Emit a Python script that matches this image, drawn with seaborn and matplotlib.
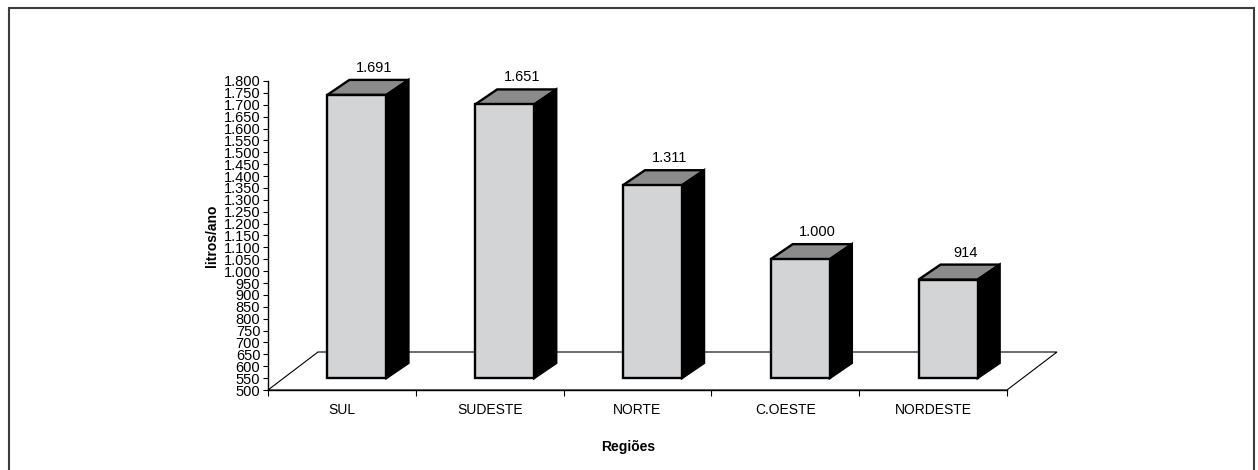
import matplotlib
matplotlib.use("Agg")
import numpy as np
import pandas as pd
import matplotlib.pyplot as plt
import seaborn as sns
from matplotlib.patches import Polygon, Rectangle
from matplotlib.transforms import IdentityTransform, offset_copy
from matplotlib.ticker import FixedLocator, FuncFormatter

# data
regioes = ["SUL", "SUDESTE", "NORTE", "C.OESTE", "NORDESTE"]
consumo = [1691, 1651, 1311, 1000, 914]
y_ticks = list(range(500, 1801, 50))

BASE = 500
FRONT = (15, 12)   # px shift of the bar front faces behind the axis plane
DEPTH = (22, 15)   # px depth of each bar
FLOOR = (50, 38)   # px depth of the floor
W, H = 1258, 470

FRONT_C = "#d3d4d6"
TOP_C = "#8b8b8b"


def br(v, _=None):
    return f"{v:,.0f}".replace(",", ".")


sns.set_theme(style="white")
plt.rcParams["font.family"] = ["Liberation Sans", "DejaVu Sans"]
plt.rcParams.update({"text.color": "black", "axes.labelcolor": "black",
                     "xtick.color": "black", "ytick.color": "black"})

fig = plt.figure(figsize=(W / 100, H / 100), dpi=100)
ax = fig.add_axes([268 / W, 1 - 390 / H, 739 / W, 309 / H])

df = pd.DataFrame({"regiao": regioes, "consumo": consumo})
sns.barplot(data=df, x="regiao", y="consumo", ax=ax, width=0.4,
            color=FRONT_C, saturation=1, edgecolor="black", linewidth=1.7,
            zorder=4)
ax.set_xlim(-0.5, len(regioes) - 0.5)
ax.set_ylim(y_ticks[0], y_ticks[-1])

# floor of the 3D box
x0, x1 = ax.get_xlim()
p0 = ax.transData.transform((x0, BASE))
p1 = ax.transData.transform((x1, BASE))
floor = np.array([p0, p1, p1 + FLOOR, p0 + FLOOR])
ax.add_patch(Polygon(floor, closed=True, facecolor="white", edgecolor="black",
                     linewidth=0.8, transform=IdentityTransform(),
                     clip_on=False, zorder=1))

# pseudo-3D bars: shift front faces, then add top and side faces
front_tr = offset_copy(ax.transData, fig=fig, x=FRONT[0], y=FRONT[1], units="dots")
d = np.array(DEPTH)
for patch in ax.patches[:len(regioes)]:
    top = patch.get_y() + patch.get_height()
    patch.set_y(BASE)
    patch.set_height(top - BASE)
    patch.set_transform(front_tr)
    patch.set_clip_on(False)
    xl, xr = patch.get_x(), patch.get_x() + patch.get_width()
    brr = front_tr.transform((xr, BASE))
    tl = front_tr.transform((xl, top))
    tr = front_tr.transform((xr, top))
    ax.add_patch(Polygon([tl, tr, tr + d, tl + d], closed=True,
                         facecolor=TOP_C, edgecolor="black", linewidth=1.7,
                         joinstyle="miter", transform=IdentityTransform(),
                         clip_on=False, zorder=3))
    ax.add_patch(Polygon([brr, tr, tr + d, brr + d], closed=True,
                         facecolor="black", edgecolor="black", linewidth=1.7,
                         joinstyle="miter", transform=IdentityTransform(),
                         clip_on=False, zorder=3))

for i, v in enumerate(consumo):
    ax.annotate(br(v), (i, v), xytext=(FRONT[0] + DEPTH[0] / 2 + 6, 39),
                textcoords="offset pixels", ha="center", va="center",
                fontsize=10.5, color="black", annotation_clip=False)

# axes styling
sns.despine(ax=ax, top=True, right=True)
for s in ["left", "bottom"]:
    ax.spines[s].set_color("black")
    ax.spines[s].set_linewidth(1.0)
    ax.spines[s].set_zorder(2)

ax.yaxis.set_major_locator(FixedLocator(y_ticks))
ax.yaxis.set_major_formatter(FuncFormatter(br))
ax.tick_params(axis="y", which="major", direction="out", length=3.5, width=0.8,
               color="black", pad=2, labelsize=10.5, left=True)
ax.set_xticks(np.arange(len(regioes) + 1) - 0.5, minor=True)
ax.tick_params(axis="x", which="minor", direction="out", length=4, width=0.8,
               color="black", bottom=True)
ax.tick_params(axis="x", which="major", length=0, pad=9.5, labelsize=10)

ax.set_xlabel("Regiões", fontsize=10, fontweight="bold")
ax.set_ylabel("litros/ano", fontsize=10, fontweight="bold")
ax.xaxis.set_label_coords((628 - 268) / 739, (390 - 440) / 309)
ax.yaxis.set_label_coords((219 - 268) / 739, 0.5)
ax.grid(False)

# outer frame
fig.patches.append(Rectangle((9 / W, -0.05), (1254 - 9) / W, 1.05 - 8 / H,
                             transform=fig.transFigure, fill=False,
                             edgecolor="#3c3c3c", linewidth=1.5))

fig.savefig("out.png", dpi=100)
plt.close(fig)
